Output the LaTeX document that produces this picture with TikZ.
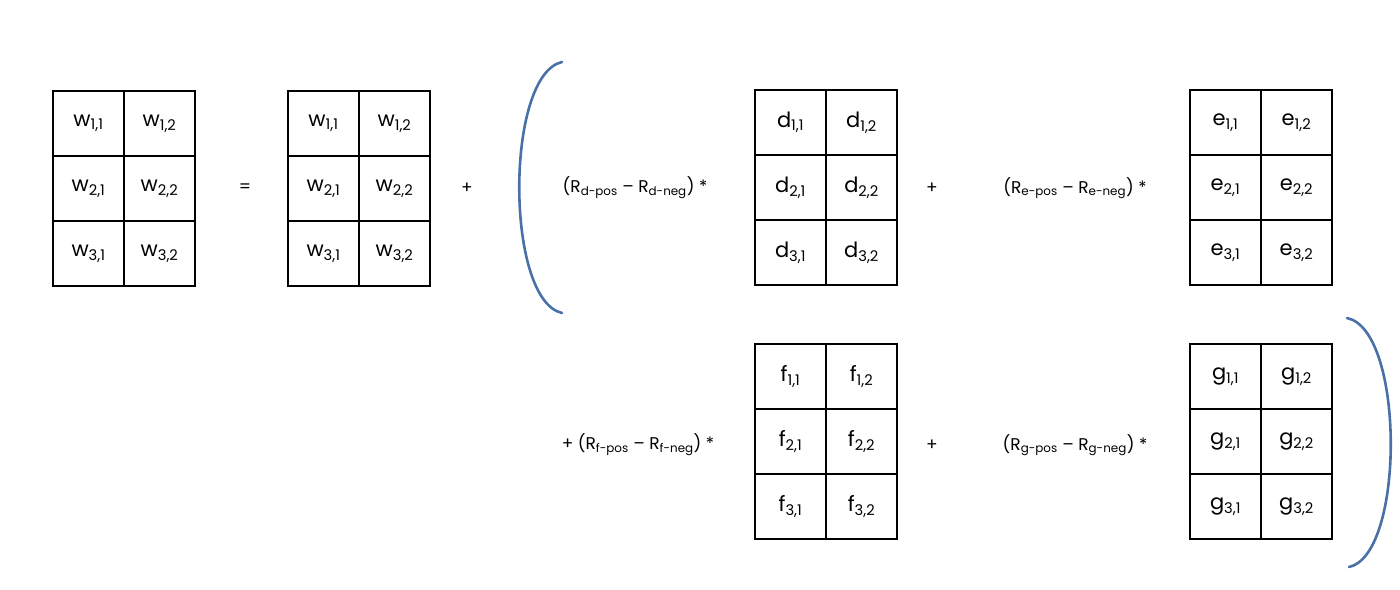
\documentclass[tikz,border=0pt]{standalone}
\usepackage{fontspec}
\setmainfont{Poppins}
\definecolor{brk}{RGB}{74,112,168}
\begin{document}
\begin{tikzpicture}[x=1pt,y=-1pt,
  cell/.style={draw,line width=1.1pt,minimum width=71pt,minimum height=65pt,inner sep=0pt,font=\fontsize{21}{21}\selectfont},
  lbl/.style={font=\fontsize{17}{17}\selectfont,inner sep=0pt},
  brace/.style={draw=brk,line width=2.6pt,line cap=round}]
\useasboundingbox (0,0) rectangle (1400,589);
\newcommand\mymat[4]{%
  \foreach \r in {1,2,3}{\foreach \c in {1,2}{%
    \node[cell] (#1\r\c) at ({#2+35.5+71*(\c-1)},{#3+32.5+65*(\r-1)}) {#4\textsubscript{\r,\c}};}}}
\mymat{a}{53}{91}{w}
\mymat{b}{288}{91}{w}
\mymat{d}{755}{90}{d}
\mymat{e}{1190}{90}{e}
\mymat{f}{755}{344}{f}
\mymat{g}{1190}{344}{g}
\node[lbl] (eq) at (245,188) {=};
\node[lbl] (p1) at (467,188) {+};
\node[lbl] (td) at (635,188) {(R\textsubscript{d-pos} – R\textsubscript{d-neg}) *};
\node[lbl] (p2) at (932,188) {+};
\node[lbl] (te) at (1075,188) {(R\textsubscript{e-pos} – R\textsubscript{e-neg}) *};
\node[lbl] (tf) at (638,445) {+ (R\textsubscript{f-pos} – R\textsubscript{f-neg}) *};
\node[lbl] (p3) at (932,445) {+};
\node[lbl] (tg) at (1075,445) {(R\textsubscript{g-pos} – R\textsubscript{g-neg}) *};
\draw[brace] (562,62) .. controls (505,75) and (505,300) .. (562,313);
\draw[brace] (1347,318) .. controls (1405,330) and (1405,555) .. (1349,567);
\end{tikzpicture}
\end{document}
